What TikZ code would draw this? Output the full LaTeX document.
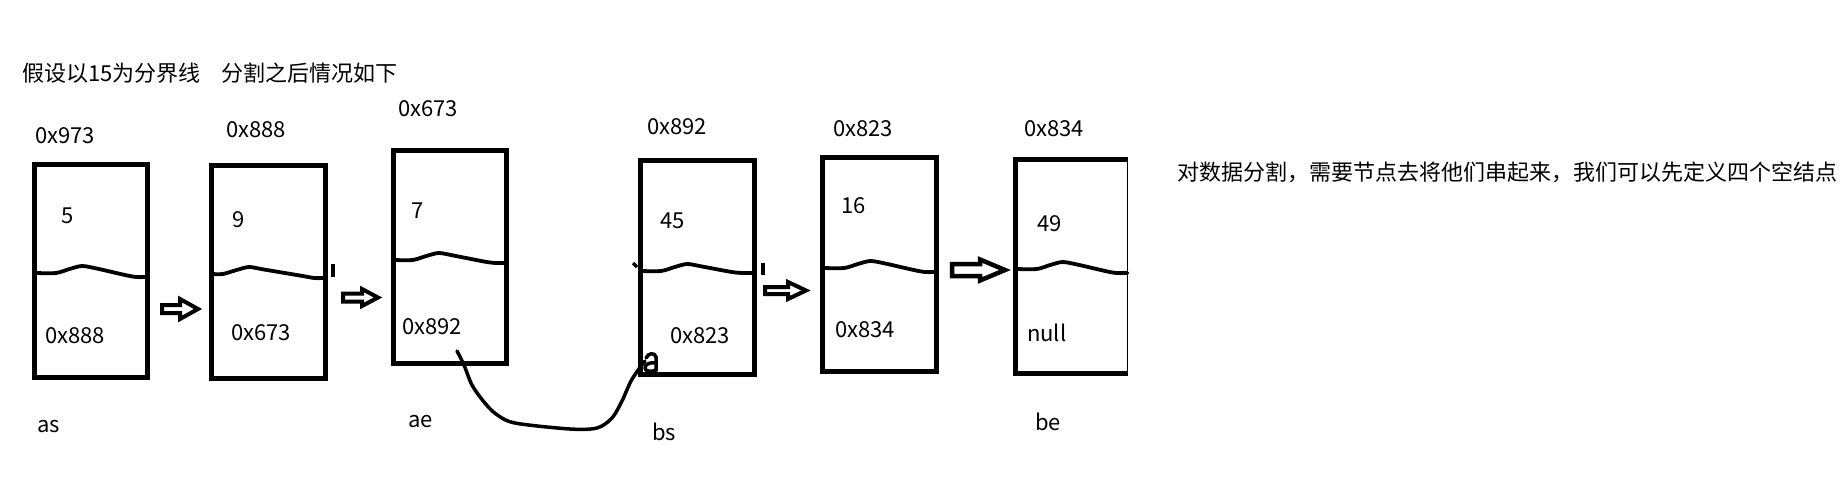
\documentclass[tikz,border=0pt]{standalone}
\usepackage{fontspec}
\newfontfamily\cjk{Noto Sans CJK SC}
\newcommand\wavy[5]{% #1=L #2=R #3=yl #4=yr #5=peak fraction
  \pgfmathsetmacro\ww{#2-#1}%
  \draw[divl] plot[smooth,tension=0.45] coordinates {(#1,#3) ({#1+(#5-0.23)*\ww},#3) ({#1+(#5-0.11)*\ww},{#3-4}) ({#1+#5*\ww},{#3-7}) ({#1+(#5+0.13)*\ww},{#3-4.5}) ({#1+0.8*\ww},{#3+0.5*(#4-#3)}) ({#1+0.9*\ww},#4) (#2,#4)};}
\begin{document}
\begin{tikzpicture}[x=1pt,y=-1pt,
  lbl/.style={anchor=base west,inner sep=0pt,outer sep=0pt,font=\cjk\fontsize{22}{26}\selectfont},
  cell/.style={draw,line width=5pt,inner sep=0pt,outer sep=0pt,minimum width=114pt,minimum height=213pt},
  divl/.style={line width=3.8pt,line cap=round,line join=round},
  harrow/.style={draw,line width=4pt,line join=miter},
  tick/.style={line width=3.5pt},
  link/.style={line width=3.5pt,line cap=round,line join=round}]
\useasboundingbox (0,0) rectangle (1844,492);

% title and note
\node[lbl] (title) at (22,82) {假设以15为分界线\hspace{21pt}分割之后情况如下};
\node[lbl] (note) at (1177,180) {对数据分割，需要节点去将他们串起来，我们可以先定义四个空结点};

% boxes
\node[cell,minimum width=113pt] (b1) at (91,271) {};
\node[cell] (b2) at (268.5,272) {};
\node[cell,minimum width=113pt] (b3) at (450,257) {};
\node[cell,minimum height=214pt] (b4) at (697.5,267.5) {};
\node[cell,minimum height=214pt] (b5) at (879.5,264.5) {};
\node[inner sep=0pt,outer sep=0pt,minimum width=112pt,minimum height=214pt] (b6) at (1071.5,266.5) {};
\draw[line width=5pt] (b6.north east) -- (b6.north west) -- (b6.south west) -- (b6.south east);
\draw[line width=1.2pt] (b6.north east) -- (b6.south east);

% wavy dividers
\wavy{34.5}{147.5}{273}{277}{0.42}
\wavy{211.5}{325.5}{274}{278}{0.33}
\wavy{393.5}{506.5}{260}{263}{0.40}
\wavy{640.5}{754.5}{271}{273}{0.41}
\wavy{822.5}{936.5}{268}{272}{0.42}
\wavy{1015.5}{1127.5}{269}{273}{0.42}

% small stray marks
\draw[tick] (333,264) -- (333,277);
\draw[tick] (763,263) -- (763,275);
\draw[tick] (633,263) -- (637,267);

% hollow arrows
\draw[harrow] (162,305) -- (180,305) -- (180,299) -- (198,309) -- (180,319) -- (180,313) -- (162,313) -- cycle;
\draw[harrow] (343,293.5) -- (362,293.5) -- (362,289) -- (378,297.5) -- (362,306) -- (362,301.5) -- (343,301.5) -- cycle;
\draw[harrow] (765,287) -- (788,287) -- (788,282) -- (806,290.5) -- (788,299) -- (788,294) -- (765,294) -- cycle;
\draw[harrow,line width=4.5pt] (952,264) -- (980,264) -- (980,259.5) -- (1005,270) -- (980,280.5) -- (980,276) -- (952,276) -- cycle;

% addresses above
\node[lbl] (a1) at (35,143) {0x973};
\node[lbl] (a2) at (226,138) {0x888};
\node[lbl] (a3) at (398,117) {0x673};
\node[lbl] (a4) at (647,135) {0x892};
\node[lbl] (a5) at (833,136) {0x823};
\node[lbl] (a6) at (1024,137) {0x834};

% values
\node[lbl] (v1) at (61,223) {5};
\node[lbl] (v2) at (232,227) {9};
\node[lbl] (v3) at (411,218) {7};
\node[lbl] (v4) at (660,228) {45};
\node[lbl] (v5) at (841,213) {16};
\node[lbl] (v6) at (1037,231) {49};

% next pointers
\node[lbl] (n1) at (45,343) {0x888};
\node[lbl] (n2) at (231,340) {0x673};
\node[lbl] (n3) at (402,334) {0x892};
\node[lbl] (n4) at (670,343) {0x823};
\node[lbl] (n5) at (835,337) {0x834};
\node[lbl] (n6) at (1027,341) {null};

% names
\node[lbl] (as) at (37,432) {as};
\node[lbl] (ae) at (408,427) {ae};
\node[lbl] (bs) at (652,440) {bs};
\node[lbl] (be) at (1035,430) {be};

% hand-drawn link from ae to bs
\coordinate (cs) at (457,351);
\coordinate (ce) at (641,366);
\draw[link] plot[smooth,tension=0.5] coordinates {(cs) (464,365) (472,385) (484,402) (496,414) (515,423) (570,429) (597,428) (612,418) (622,401) (631,381) (ce)};
\draw[link] (ce) -- (645,361);
\draw[link] (646,358) .. controls (648,353) and (655,352) .. (656,357) -- (656,371);
\draw[link] (656,363) .. controls (650,362) and (645,364) .. (645,368) .. controls (645,372) and (652,372) .. (656,370);
\end{tikzpicture}
\end{document}
